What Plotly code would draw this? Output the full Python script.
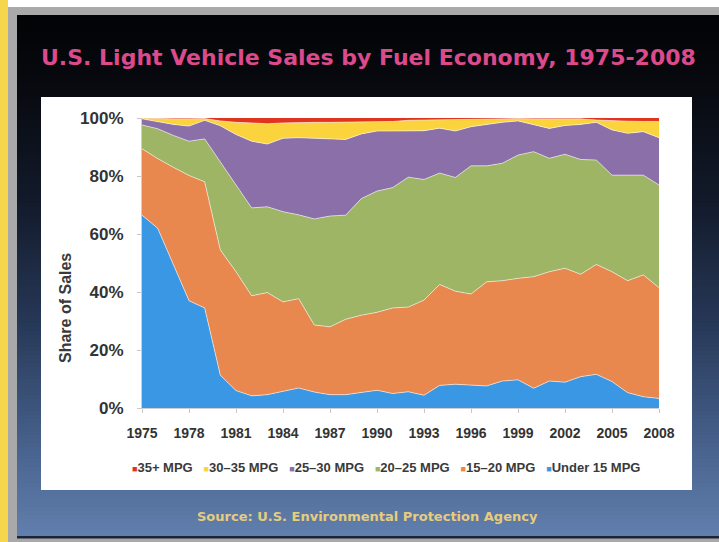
import plotly.graph_objects as go

# ---------------- data (share of sales, %) ----------------
years = list(range(1975, 2009))

under15 = [66.5, 62.0, 49.5, 37.0, 34.5, 11.3, 6.0, 4.2, 4.6, 5.7, 6.9, 5.5, 4.6, 4.6,
           5.3, 6.1, 5.0, 5.6, 4.4, 7.8, 8.2, 7.8, 7.6, 9.3, 9.7, 6.8, 9.3, 8.9, 10.8,
           11.6, 9.1, 5.3, 3.9, 3.3]
mpg15_20 = [22.9, 24.0, 33.5, 43.2, 43.5, 43.2, 41.0, 34.5, 35.2, 30.9, 30.8, 23.1, 23.4, 26.0,
            26.7, 26.9, 29.5, 29.2, 32.8, 34.8, 32.1, 31.5, 35.9, 34.6, 35.0, 38.5, 37.7, 39.3,
            35.3, 37.9, 37.9, 38.6, 42.0, 38.2]
mpg20_25 = [8.2, 10.3, 11.0, 11.8, 14.8, 30.5, 30.0, 30.3, 29.6, 31.1, 28.9, 36.6, 38.2, 35.9,
            40.2, 41.8, 41.5, 44.8, 41.6, 38.4, 39.2, 44.2, 40.0, 40.5, 42.5, 43.1, 39.1, 39.3,
            39.6, 36.0, 33.3, 36.4, 34.4, 35.4]
mpg25_30 = [2.1, 2.5, 3.8, 5.2, 6.4, 12.3, 17.3, 23.0, 21.6, 25.3, 26.6, 27.8, 26.6, 26.1,
            22.3, 20.7, 19.5, 16.0, 16.8, 15.5, 16.0, 13.5, 14.3, 14.1, 11.8, 9.2, 10.3, 9.9,
            12.1, 13.0, 15.6, 14.4, 15.0, 16.3]
mpg30_35 = [0.3, 1.0, 1.9, 2.5, 0.6, 1.7, 4.2, 6.3, 7.0, 5.3, 5.3, 5.5, 5.7, 6.0,
            4.1, 3.2, 3.3, 3.6, 3.7, 2.9, 4.1, 2.7, 1.9, 1.2, 0.8, 2.1, 3.3, 2.3,
            1.9, 0.8, 3.1, 4.2, 3.5, 5.6]
mpg35plus = [0.0, 0.2, 0.3, 0.3, 0.2, 1.0, 1.5, 1.7, 2.0, 1.7, 1.5, 1.5, 1.5, 1.4,
             1.4, 1.3, 1.2, 0.8, 0.7, 0.6, 0.4, 0.3, 0.3, 0.3, 0.2, 0.3, 0.3, 0.3,
             0.3, 0.7, 1.0, 1.1, 1.2, 1.2]

series_names = ["Under 15 MPG", "15\u201320 MPG", "20\u201325 MPG",
                "25\u201330 MPG", "30\u201335 MPG", "35+ MPG"]
series_values = [under15, mpg15_20, mpg20_25, mpg25_30, mpg30_35, mpg35plus]
series_colors = ["#3a97e4", "#e8884f", "#9db565", "#8a6fa8", "#fbd33c", "#e0341e"]

x_ticks = years[::3]
y_ticks = [0, 20, 40, 60, 80, 100]
y_tick_labels = ["0%", "20%", "40%", "60%", "80%", "100%"]

title_text = "U.S. Light Vehicle Sales by Fuel Economy, 1975-2008"
y_title_text = "Share of Sales"
source_text = "Source: U.S. Environmental Protection Agency"

# ---------------- geometry helpers ----------------
W, H = 719, 542
def fx(px):
    return px / W
def fy(py):
    return 1 - py / H

fig = go.Figure()
for i, (name, vals, col) in enumerate(zip(series_names, series_values, series_colors)):
    fig.add_trace(go.Scatter(
        x=years, y=vals, name=name, stackgroup="one",
        groupnorm="percent" if i == 0 else None,
        mode="lines",
        line=dict(width=1 if i < 5 else 0, color="rgba(255,255,255,0.55)"),
        fillcolor=col, showlegend=False, hoverinfo="x+y+name",
    ))

# ---------------- background shapes ----------------
shapes = []
shapes.append(dict(type="rect", xref="paper", yref="paper", x0=0, x1=1, y0=fy(7), y1=1,
                   fillcolor="#ffffff", line=dict(width=0), layer="below"))
shapes.append(dict(type="rect", xref="paper", yref="paper", x0=0, x1=fx(8), y0=0, y1=1,
                   fillcolor="#f6d64c", line=dict(width=0), layer="below"))

stops = [(15, (2, 3, 5)), (90, (8, 10, 16)), (200, (18, 26, 42)),
         (320, (38, 55, 86)), (450, (72, 99, 142)), (538, (98, 128, 174))]
def col_at(y):
    for (y0, c0), (y1, c1) in zip(stops[:-1], stops[1:]):
        if y0 <= y <= y1:
            t = (y - y0) / (y1 - y0)
            return "rgb(%d,%d,%d)" % tuple(round(a + (b - a) * t) for a, b in zip(c0, c1))
    return "rgb(%d,%d,%d)" % stops[-1][1]

step = 4
y = 15
while y < 536:
    y2 = min(y + step, 536)
    shapes.append(dict(type="rect", xref="paper", yref="paper", x0=fx(17), x1=1,
                       y0=fy(y2 + 0.5), y1=fy(y), fillcolor=col_at((y + y2) / 2),
                       line=dict(width=0), layer="below"))
    y = y2
shapes.append(dict(type="rect", xref="paper", yref="paper", x0=fx(17), x1=1,
                   y0=fy(538.5), y1=fy(536), fillcolor="#1c2636",
                   line=dict(width=0), layer="below"))
shapes.append(dict(type="rect", xref="paper", yref="paper", x0=fx(41), x1=fx(692),
                   y0=fy(490), y1=fy(97), fillcolor="#ffffff",
                   line=dict(width=0), layer="below"))

# ---------------- legend as text ----------------
legend_parts = []
for name, col in reversed(list(zip(series_names, series_colors))):
    legend_parts.append("<span style='color:%s;font-size:9px'>\u25A0</span>%s" % (col, name))
legend_text = "   ".join(legend_parts)

annotations = [
    dict(text="<b>%s</b>" % title_text, xref="paper", yref="paper", x=fx(368), y=fy(57),
         xanchor="center", yanchor="middle", showarrow=False,
         font=dict(family="DejaVu Sans", size=22, color="#dc4a8c")),
    dict(text="<b>%s</b>" % y_title_text, xref="paper", yref="paper", x=fx(65), y=fy(308),
         xanchor="center", yanchor="middle", showarrow=False, textangle=-90,
         font=dict(family="Liberation Sans, Arial", size=16, color="#3a3a3a")),
    dict(text="<b>%s</b>" % legend_text, xref="paper", yref="paper", x=fx(386), y=fy(467),
         xanchor="center", yanchor="middle", showarrow=False,
         font=dict(family="Liberation Sans, Arial", size=13, color="#3a3a3a")),
    dict(text="<b>%s</b>" % source_text, xref="paper", yref="paper", x=fx(367), y=fy(516),
         xanchor="center", yanchor="middle", showarrow=False,
         font=dict(family="DejaVu Sans", size=13, color="#e6cd7c")),
]

fig.update_layout(
    template="none",
    width=W, height=H, margin=dict(l=0, r=0, t=0, b=0, pad=0, autoexpand=False),
    paper_bgcolor="#a9a9a9", plot_bgcolor="#ffffff",
    shapes=shapes, annotations=annotations, showlegend=False,
    xaxis=dict(domain=[fx(142), fx(659)], range=[1975, 2008], tickvals=x_ticks,
               automargin=False,
               ticks="outside", ticklen=4, tickcolor="#c8c8c8", showline=True,
               linecolor="#cfcfcf", showgrid=False, zeroline=False, ticklabelstandoff=8,
               tickfont=dict(family="Liberation Sans, Arial", size=14, color="#333333",
                             weight="bold")),
    yaxis=dict(domain=[fy(408), fy(118)], range=[0, 100], tickvals=y_ticks,
               ticktext=y_tick_labels, automargin=False,
               ticks="outside", ticklen=4, tickcolor="#c8c8c8", showline=True,
               linecolor="#cfcfcf", showgrid=False, zeroline=False, ticklabelstandoff=10,
               tickfont=dict(family="Liberation Sans, Arial", size=17, color="#333333",
                             weight="bold")),
)

fig.write_html("out.html", config={"displayModeBar": False},
               post_script="document.body.style.margin='0';document.body.style.overflow='hidden';")
